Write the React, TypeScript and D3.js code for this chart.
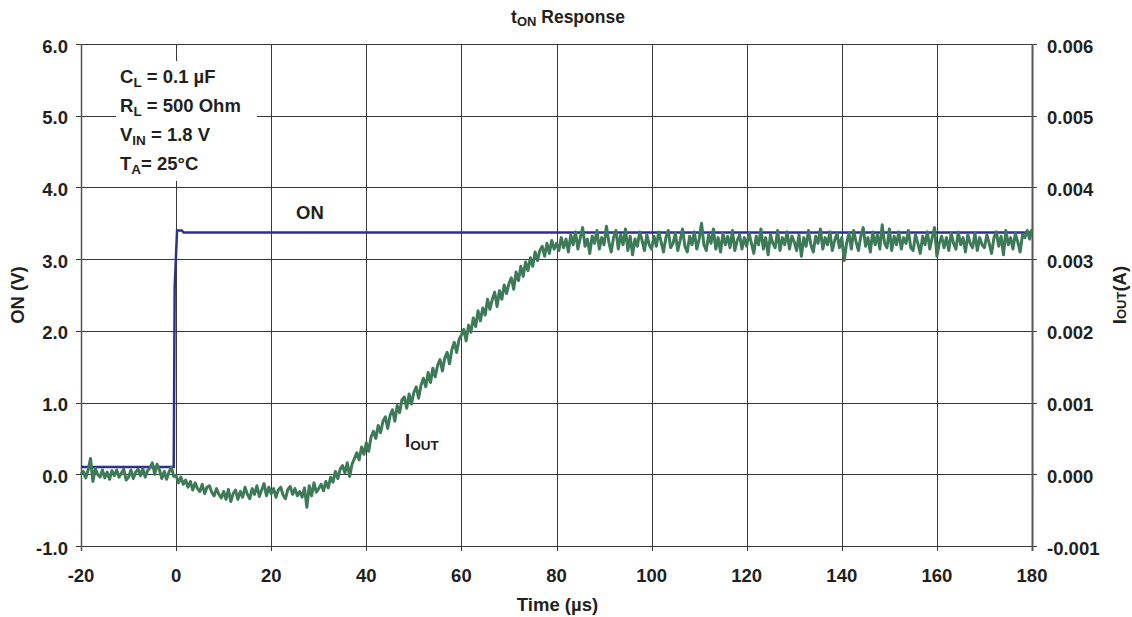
import React, { useEffect, useRef } from 'react'
import * as d3 from 'd3'

// ON pin voltage (V), step at t = 0
const onTime = [-20, -0.5, -0.3, 0.2, 1.2, 1.6, 180]
const onVolts = [0.1, 0.1, 2.6, 3.4, 3.4, 3.37, 3.37]

// IOUT samples every 0.5 us from -20 to 180, in mA
const ioutStart = -20
const ioutStep = 0.5
const ioutMA = [
    0.00, 0.04, -0.05, 0.06, 0.22, -0.10, 0.08, 0.00, -0.04, 0.06, -0.05, 0.03, -0.07, 0.05, -0.02, 0.06, -0.04, 0.02, 0.07, -0.08,
    -0.04, 0.06, -0.06, 0.03, 0.07, -0.02, 0.08, -0.04, 0.05, 0.09, 0.16, 0.00, 0.14, 0.06, -0.06, 0.04, -0.07, 0.03, 0.10, -0.03,
    -0.02, -0.12, -0.04, -0.14, -0.08, -0.18, -0.10, -0.22, -0.12, -0.20, -0.24, -0.14, -0.27, -0.18, -0.16, -0.25, -0.30, -0.20, -0.28, -0.33,
    -0.24, -0.35, -0.21, -0.38, -0.27, -0.22, -0.35, -0.24, -0.32, -0.18, -0.28, -0.34, -0.20, -0.28, -0.16, -0.31, -0.22, -0.13, -0.30, -0.18,
    -0.27, -0.20, -0.32, -0.22, -0.18, -0.29, -0.34, -0.21, -0.17, -0.28, -0.20, -0.30, -0.24, -0.32, -0.19, -0.46, -0.16, -0.30, -0.12, -0.25,
    -0.20, -0.14, -0.23, -0.10, -0.19, -0.04, -0.11, 0.04, -0.06, 0.07, 0.12, 0.02, 0.16, -0.03, 0.14, 0.22, 0.30, 0.20, 0.38, 0.28,
    0.44, 0.32, 0.52, 0.60, 0.50, 0.68, 0.58, 0.74, 0.80, 0.64, 0.82, 0.90, 0.74, 0.96, 0.86, 1.04, 1.08, 0.92, 1.12, 0.98,
    1.14, 1.22, 1.06, 1.24, 1.34, 1.22, 1.42, 1.28, 1.48, 1.36, 1.52, 1.60, 1.44, 1.62, 1.70, 1.54, 1.74, 1.84, 1.70, 1.88,
    1.94, 2.02, 1.86, 2.08, 1.98, 2.18, 2.06, 2.28, 2.14, 2.32, 2.22, 2.44, 2.30, 2.44, 2.54, 2.34, 2.56, 2.44, 2.64, 2.52,
    2.66, 2.74, 2.58, 2.82, 2.70, 2.90, 2.76, 2.96, 2.84, 3.02, 2.90, 3.10, 2.98, 3.12, 3.18, 3.04, 3.22, 3.08, 3.26, 3.14,
    3.22, 3.12, 3.30, 3.16, 3.28, 3.10, 3.34, 3.20, 3.38, 3.14, 3.30, 3.44, 3.18, 3.28, 3.08, 3.32, 3.22, 3.40, 3.14, 3.30,
    3.20, 3.46, 3.24, 3.10, 3.30, 3.40, 3.14, 3.34, 3.20, 3.42, 3.12, 3.32, 3.06, 3.28, 3.18, 3.38, 3.26, 3.12, 3.34, 3.20,
    3.14, 3.32, 3.18, 3.38, 3.24, 3.10, 3.30, 3.40, 3.16, 3.22, 3.36, 3.12, 3.26, 3.42, 3.18, 3.10, 3.32, 3.20, 3.38, 3.14,
    3.28, 3.50, 3.20, 3.12, 3.34, 3.22, 3.42, 3.14, 3.30, 3.10, 3.36, 3.20, 3.32, 3.16, 3.40, 3.12, 3.26, 3.34, 3.14, 3.30,
    3.18, 3.36, 3.22, 3.08, 3.32, 3.20, 3.42, 3.14, 3.30, 3.06, 3.34, 3.22, 3.16, 3.40, 3.12, 3.30, 3.20, 3.38, 3.14, 3.32,
    3.24, 3.12, 3.34, 3.04, 3.30, 3.18, 3.40, 3.20, 3.10, 3.32, 3.22, 3.42, 3.14, 3.30, 3.20, 3.38, 3.12, 3.26, 3.36, 3.16,
    3.30, 2.98, 3.22, 3.36, 3.14, 3.40, 3.24, 3.12, 3.32, 3.44, 3.18, 3.30, 3.10, 3.38, 3.20, 3.34, 3.14, 3.48, 3.22, 3.16,
    3.42, 3.12, 3.32, 3.20, 3.38, 3.14, 3.30, 3.22, 3.40, 3.16, 3.12, 3.34, 3.22, 3.08, 3.32, 3.20, 3.38, 3.14, 3.30, 3.44,
    3.04, 3.22, 3.32, 3.16, 3.30, 3.12, 3.36, 3.22, 3.14, 3.38, 3.20, 3.30, 3.10, 3.34, 3.22, 3.16, 3.36, 3.12, 3.30, 3.20,
    3.16, 3.34, 3.22, 3.08, 3.30, 3.38, 3.18, 3.32, 3.06, 3.40, 3.20, 3.30, 3.14, 3.36, 3.24, 3.10, 3.34, 3.30, 3.40, 3.28,
    3.42,
]

const xTicks = [-20, 0, 20, 40, 60, 80, 100, 120, 140, 160, 180]
const yLeftTicks = [-1, 0, 1, 2, 3, 4, 5, 6]
const yRightTicks = [-0.001, 0, 0.001, 0.002, 0.003, 0.004, 0.005, 0.006]

const FONT = '"Liberation Sans", Arial, sans-serif'
const INK = '#231f20'

const App = () => {
    const svgRef = useRef<SVGSVGElement>(null)

    useEffect(() => {
        const svg = d3.select(svgRef.current)
        svg.selectAll('*').remove()

        const width = 1132
        const height = 617
        const margin = { top: 44, right: 100, bottom: 71, left: 81 }
        const innerW = width - margin.left - margin.right
        const innerH = height - margin.top - margin.bottom
        const midY = margin.top + innerH / 2

        const x = d3.scaleLinear().domain([-20, 180]).range([margin.left, margin.left + innerW])
        const y = d3.scaleLinear().domain([-1, 6]).range([margin.top + innerH, margin.top])
        const yR = d3.scaleLinear().domain([-0.001, 0.006]).range([margin.top + innerH, margin.top])

        // d3.format uses a unicode minus; the chart uses a plain hyphen
        const fmt = (spec: string) => (v: number) => d3.format(spec)(v).replace('\u2212', '-')

        svg.attr('width', width).attr('height', height)
            .style('display', 'block')
            .style('background', '#fff')
            .style('font-family', FONT)

        // gridlines
        const grid = svg.append('g').attr('stroke', '#3a3a3a').attr('stroke-width', 1)
        grid.selectAll('line.h')
            .data(yLeftTicks)
            .join('line')
            .attr('class', 'h')
            .attr('x1', margin.left - 5)
            .attr('x2', margin.left + innerW + 5)
            .attr('y1', d => Math.round(y(d)) + 0.5)
            .attr('y2', d => Math.round(y(d)) + 0.5)
        grid.selectAll('line.v')
            .data(xTicks)
            .join('line')
            .attr('class', 'v')
            .attr('x1', d => Math.round(x(d)) + 0.5)
            .attr('x2', d => Math.round(x(d)) + 0.5)
            .attr('y1', margin.top)
            .attr('y2', margin.top + innerH + 5)

        // axis lines
        svg.append('line')
            .attr('x1', margin.left + 0.5).attr('x2', margin.left + 0.5)
            .attr('y1', margin.top).attr('y2', margin.top + innerH + 5)
            .attr('stroke', '#555').attr('stroke-width', 1.5)
        svg.append('line')
            .attr('x1', margin.left + innerW + 0.5).attr('x2', margin.left + innerW + 0.5)
            .attr('y1', margin.top).attr('y2', margin.top + innerH + 5)
            .attr('stroke', '#555').attr('stroke-width', 2)

        // annotation box with white background
        const note = svg.append('g')
        note.append('rect')
            .attr('x', 116).attr('y', 61).attr('width', 141).attr('height', 120)
            .attr('fill', '#fff')
        const noteLines = [
            { main: 'C', sub: 'L', rest: ' = 0.1 µF' },
            { main: 'R', sub: 'L', rest: ' = 500 Ohm' },
            { main: 'V', sub: 'IN', rest: ' = 1.8 V' },
            { main: 'T', sub: 'A', rest: '= 25°C' },
        ]
        noteLines.forEach((l, i) => {
            const t = note.append('text')
                .attr('x', 120)
                .attr('y', 83 + i * 29)
                .attr('font-size', 18.5)
                .attr('font-weight', 'bold')
                .attr('fill', INK)
            t.append('tspan').text(l.main)
            t.append('tspan').attr('font-size', 13.5).attr('dy', 4).text(l.sub)
            t.append('tspan').attr('dy', -4).text(l.rest)
        })

        // ON line
        const onLine = d3.line<number>()
            .x((d, i) => x(onTime[i]))
            .y(d => y(d))
        svg.append('path')
            .datum(onVolts)
            .attr('d', onLine)
            .attr('fill', 'none')
            .attr('stroke', '#2b3191')
            .attr('stroke-width', 2.5)

        // IOUT line
        const ioutLine = d3.line<number>()
            .x((d, i) => x(ioutStart + i * ioutStep))
            .y(d => yR(d / 1000))
        svg.append('path')
            .datum(ioutMA)
            .attr('d', ioutLine)
            .attr('fill', 'none')
            .attr('stroke', '#3d7a58')
            .attr('stroke-width', 3)
            .attr('stroke-linejoin', 'round')

        // tick labels
        const tickStyle = (sel: any) => sel
            .attr('font-size', 18.5)
            .attr('font-weight', 'bold')
            .attr('fill', INK)

        svg.append('g')
            .selectAll('text')
            .data(yLeftTicks)
            .join('text')
            .call(tickStyle)
            .attr('x', 68)
            .attr('y', d => y(d) + 8.5)
            .attr('text-anchor', 'end')
            .text(d => fmt('.1f')(d))

        svg.append('g')
            .selectAll('text')
            .data(yRightTicks)
            .join('text')
            .call(tickStyle)
            .attr('x', margin.left + innerW + 15)
            .attr('y', d => yR(d) + 8.5)
            .attr('text-anchor', 'start')
            .text(d => fmt('.3f')(d))

        svg.append('g')
            .selectAll('text')
            .data(xTicks)
            .join('text')
            .call(tickStyle)
            .attr('x', d => x(d))
            .attr('y', margin.top + innerH + 36)
            .attr('text-anchor', 'middle')
            .text(d => fmt('d')(d))

        // series labels
        svg.append('text')
            .call(tickStyle)
            .attr('x', 296).attr('y', 219)
            .text('ON')
        const io = svg.append('text')
            .call(tickStyle)
            .attr('x', 405).attr('y', 447)
        io.append('tspan').text('I')
        io.append('tspan').attr('font-size', 13.5).attr('dy', 3).text('OUT')

        // title
        const title = svg.append('text')
            .attr('x', 568).attr('y', 23)
            .attr('text-anchor', 'middle')
            .attr('font-size', 17.5)
            .attr('font-weight', 'bold')
            .attr('fill', INK)
        title.append('tspan').text('t')
        title.append('tspan').attr('font-size', 13).attr('dy', 3).text('ON')
        title.append('tspan').attr('dy', -3).text(' Response')

        // axis titles
        svg.append('text')
            .call(tickStyle)
            .attr('x', margin.left + innerW / 2 + 1)
            .attr('y', 611)
            .attr('text-anchor', 'middle')
            .text('Time (µs)')

        svg.append('text')
            .call(tickStyle)
            .attr('transform', `translate(24, ${midY}) rotate(-90)`)
            .attr('text-anchor', 'middle')
            .text('ON (V)')

        const rl = svg.append('text')
            .call(tickStyle)
            .attr('transform', `translate(1126, ${midY}) rotate(-90)`)
            .attr('text-anchor', 'middle')
        rl.append('tspan').text('I')
        rl.append('tspan').attr('font-size', 13).text('OUT')
        rl.append('tspan').text('(A)')
    }, [])

    return (
        <div style={{ position: 'absolute', left: 0, top: 0 }}>
            <svg ref={svgRef} />
        </div>
    )
}

export default App
